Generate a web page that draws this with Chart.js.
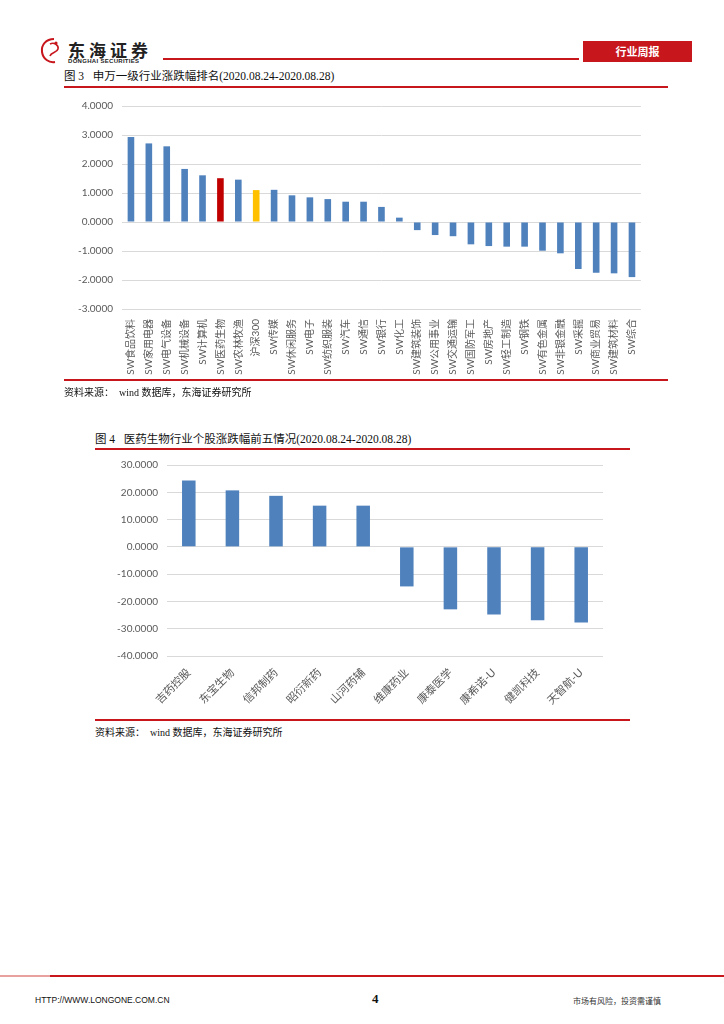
<!DOCTYPE html>
<html>
<head>
<meta charset="utf-8">
<script src="https://cdn.jsdelivr.net/npm/chart.js@4.4.1/dist/chart.umd.min.js"></script>
<style>
  body { margin: 0; width: 724px; height: 1024px; background: #fff; position: relative; overflow: hidden;
         font-family: "Liberation Serif", "Noto Sans CJK SC", serif; }
  .abs { position: absolute; }
  .cap { font-size: 11.5px; color: #111; white-space: nowrap; }
  .src { font-size: 10px; color: #111; white-space: nowrap; }
  .redline { background: #c8161d; height: 2px; }
</style>
</head>
<body>

<!-- 页眉 -->
<svg class="abs" style="left:38px;top:36px" width="30" height="30" viewBox="0 0 30 30">
  <path d="M16 3 C8 3 3 9 4 16 C5 23 11 27 17 26" fill="none" stroke="#c8161d" stroke-width="2"/>
  <path d="M12 8 C16 6 21 9 20 13 C19 17 13 16 12 20" fill="none" stroke="#c8161d" stroke-width="1.6"/>
  <circle cx="18" cy="7" r="1.6" fill="#c8161d"/>
</svg>
<div class="abs" style="left:68px;top:37px;font-family:'Noto Sans CJK SC';font-weight:bold;font-size:17px;letter-spacing:4px;color:#222">东海证券</div>
<div class="abs" style="left:68px;top:58px;font-family:'Liberation Sans';font-weight:bold;font-size:6px;letter-spacing:0.3px;color:#222">DONGHAI SECURITIES</div>
<div class="abs redline" style="left:163px;top:58px;width:416px;height:1.5px"></div>
<div class="abs" style="left:583px;top:41px;width:109px;height:21px;background:#c8161d;color:#fff;font-family:'Noto Sans CJK SC';font-weight:bold;font-size:11px;line-height:21px;text-align:center">行业周报</div>

<!-- 图3 -->
<div class="abs cap" style="left:64px;top:67px">图 3&nbsp;&nbsp;&nbsp;申万一级行业涨跌幅排名(2020.08.24-2020.08.28)</div>
<div class="abs redline" style="left:64px;top:86px;width:604px"></div>
<div class="abs" style="left:60px;top:91px;width:586px;height:289px"><canvas id="c1"></canvas></div>
<div class="abs redline" style="left:64px;top:379px;width:604px"></div>
<div class="abs src" style="left:64px;top:384px">资料来源：&nbsp;&nbsp;wind 数据库，东海证券研究所</div>

<!-- 图4 -->
<div class="abs cap" style="left:95px;top:430px">图 4&nbsp;&nbsp;&nbsp;医药生物行业个股涨跌幅前五情况(2020.08.24-2020.08.28)</div>
<div class="abs redline" style="left:95px;top:448px;width:535px"></div>
<div class="abs" style="left:95px;top:450px;width:510px;height:260px"><canvas id="c2"></canvas></div>
<div class="abs redline" style="left:95px;top:719px;width:535px"></div>
<div class="abs src" style="left:95px;top:724px">资料来源：&nbsp;&nbsp;wind 数据库，东海证券研究所</div>

<!-- 页脚 -->
<div class="abs" style="left:0;top:975px;width:50px;height:1.5px;background:#e8a0a0"></div>
<div class="abs" style="left:50px;top:975px;width:674px;height:1.5px;background:#c8161d"></div>
<div class="abs" style="left:35px;top:995px;font-family:'Liberation Sans';font-size:8.5px;color:#111">HTTP://WWW.LONGONE.COM.CN</div>
<div class="abs" style="left:372px;top:991px;font-family:'Liberation Serif';font-weight:bold;font-size:13px;color:#111">4</div>
<div class="abs" style="left:573px;top:995px;font-family:'Noto Sans CJK SC';font-size:8px;color:#333">市场有风险，投资需谨慎</div>

<script>
// 图3 申万一级行业
const industries = ["SW食品饮料","SW家用电器","SW电气设备","SW机械设备","SW计算机","SW医药生物","SW农林牧渔","沪深300",
  "SW传媒","SW休闲服务","SW电子","SW纺织服装","SW汽车","SW通信","SW银行","SW化工","SW建筑装饰","SW公用事业",
  "SW交通运输","SW国防军工","SW房地产","SW轻工制造","SW钢铁","SW有色金属","SW非银金融","SW采掘","SW商业贸易",
  "SW建筑材料","SW综合"];
const industryChg = [2.93,2.71,2.61,1.83,1.61,1.51,1.46,1.10,1.11,0.92,0.85,0.79,0.70,0.70,0.52,0.15,-0.28,-0.45,
  -0.49,-0.77,-0.83,-0.85,-0.85,-0.99,-1.08,-1.62,-1.75,-1.77,-1.90];
const industryColors = industries.map(n => n === "SW医药生物" ? "#c00000" : n === "沪深300" ? "#ffc000" : "#4f81bd");

// 图4 医药生物个股
const stocks = ["吉药控股","东宝生物","信邦制药","昭衍新药","山河药辅","维康药业","康泰医学","康希诺-U","健凯科技","天智航-U"];
const stockChg = [24.3,20.7,18.7,15.1,15.1,-14.5,-22.9,-24.8,-26.9,-27.7];

const tickFont = { family: "Lato, 'Noto Sans CJK SC'", size: 10 };
const gray = "#595959";

function makeChart(id, labels, values, colors, opt) {
  return new Chart(document.getElementById(id), {
    type: "bar",
    data: {
      labels: labels,
      datasets: [{ data: values, backgroundColor: colors, barPercentage: opt.bar, categoryPercentage: 1 }]
    },
    options: {
      responsive: true,
      maintainAspectRatio: false,
      animation: false,
      layout: { padding: { right: 2 } },
      plugins: { legend: { display: false }, tooltip: { enabled: false } },
      scales: {
        x: {
          grid: { display: false },
          border: { display: false },
          ticks: { color: gray, font: { family: tickFont.family, size: opt.xSize }, autoSkip: false,
                   maxRotation: opt.rot, minRotation: opt.rot, padding: 2 },
          afterFit: s => { s.height = opt.xH; }
        },
        y: {
          min: opt.min, max: opt.max,
          grid: { color: "#d9d9d9", lineWidth: 1, drawTicks: false },
          border: { display: false },
          ticks: { stepSize: opt.step, color: gray, font: tickFont, padding: 9,
                   callback: v => Number(v).toFixed(4) },
          afterFit: s => { s.width = opt.yW; }
        }
      }
    }
  });
}

makeChart("c1", industries, industryChg, industryColors,
  { bar: 0.37, min: -3, max: 4, step: 1, rot: 90, xSize: 10, xH: 71, yW: 62 });
makeChart("c2", stocks, stockChg, "#4f81bd",
  { bar: 0.31, min: -40, max: 30, step: 10, rot: 45, xSize: 11, xH: 54, yW: 72 });
</script>
</body>
</html>
